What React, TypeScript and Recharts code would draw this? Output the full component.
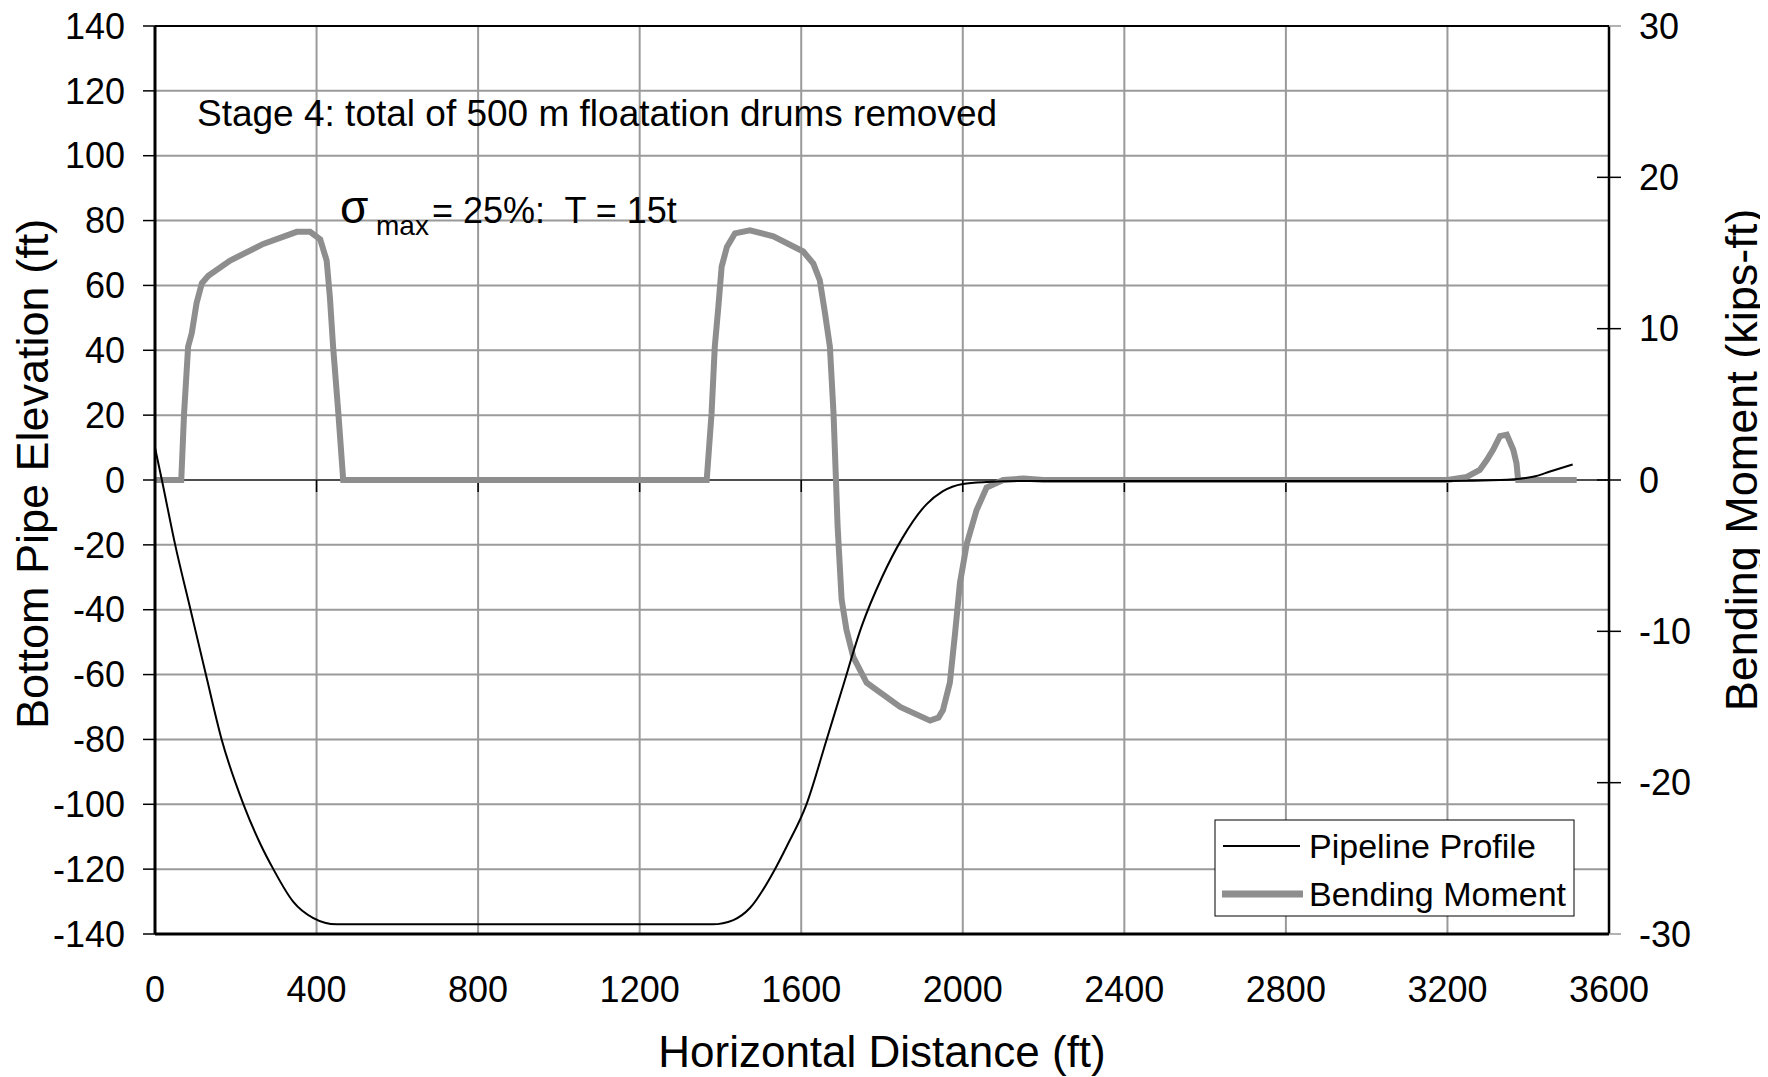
import { LineChart, Line, XAxis, YAxis, CartesianGrid, ReferenceLine } from "recharts";

const W = 1768;
const H = 1077;
const FONT = "'Liberation Sans', Arial, sans-serif";

const xTicks = [0, 400, 800, 1200, 1600, 2000, 2400, 2800, 3200, 3600];
const leftTicks = [-140, -120, -100, -80, -60, -40, -20, 0, 20, 40, 60, 80, 100, 120, 140];
const rightTicks = [-30, -20, -10, 0, 10, 20, 30];

// pipeline profile (ft, ft) - left axis
const profileX = [0, 17, 50, 88, 126, 165, 219, 260, 293, 342, 391, 450, 1380, 1432, 1473, 1535, 1564, 1613, 1663, 1700, 1750, 1800, 1850, 1910, 1950, 2000, 2060, 2150, 3200, 3330, 3412, 3454, 3510];
const profileY = [10, 0, -20, -40, -60, -80, -100, -112, -120, -130, -135, -137, -137, -135.7, -132, -120, -113, -100, -80, -65, -45, -30, -18, -7.5, -3.5, -1.2, -0.6, -0.3, -0.3, 0, 1, 2.6, 4.8];

// bending moment (ft, kips-ft) - right axis
const momentX = [0, 65, 72, 82, 91, 103, 116, 132, 186, 268, 351, 384, 409, 425, 433, 441, 454, 466, 1366, 1378, 1386, 1395, 1403, 1416, 1436, 1473, 1531, 1605, 1630, 1646, 1659, 1671, 1680, 1686, 1690, 1700, 1712, 1729, 1762, 1845, 1919, 1940, 1951, 1968, 1981, 1993, 2010, 2034, 2059, 2100, 2150, 2200, 3200, 3248, 3280, 3297, 3313, 3330, 3347, 3363, 3371, 3375, 3520];
const momentY = [0, 0, 4.4, 8.8, 9.7, 11.7, 13.0, 13.5, 14.5, 15.6, 16.4, 16.4, 15.9, 14.5, 12.1, 8.8, 4.4, 0, 0, 4.4, 8.8, 11.5, 14.1, 15.4, 16.3, 16.5, 16.1, 15.1, 14.3, 13.2, 11.0, 8.8, 4.4, 0, -3, -7.9, -9.9, -11.7, -13.4, -15.0, -15.9, -15.7, -15.2, -13.4, -10.1, -6.8, -4.2, -2.0, -0.5, 0, 0.1, 0, 0, 0.2, 0.66, 1.3, 2.0, 2.9, 3.0, 2.0, 1.1, 0, 0];

const profileData = profileX.map((x, i) => ({ x, y: profileY[i] }));
const momentData = momentX.map((x, i) => ({ x, y: momentY[i] }));

const RightTick = (props: any) => {
  const { x, y, payload } = props;
  const end = payload.value === 30 || payload.value === -30;
  return (
    <g>
      <line x1={end ? x : x - 12} x2={x + 12} y1={y} y2={y} stroke={end ? "#999" : "#000"} strokeWidth={1.5} />
      <text x={x + 30} y={y} dominantBaseline="central" fontSize={36} fill="#000" fontFamily={FONT}>
        {payload.value}
      </text>
    </g>
  );
};

export default function App() {
  // cancel the default 8px body margin so the chart sits at the page origin
  return (
    <div style={{ position: "relative", width: W, height: H, margin: "-8px 0 0 -8px", fontFamily: FONT }}>
      <LineChart width={W} height={H} margin={{ top: 26, right: 0, bottom: 0, left: 0 }}>
        <CartesianGrid stroke="#9a9a9a" strokeWidth={2} />
        <XAxis
          type="number"
          dataKey="x"
          domain={[0, 3600]}
          ticks={xTicks}
          interval={0}
          allowDataOverflow
          tickLine={false}
          tickSize={0}
          tickMargin={42}
          height={143}
          axisLine={{ stroke: "#000", strokeWidth: 3 }}
          tick={{ fill: "#000", fontSize: 36, fontFamily: FONT }}
        />
        <YAxis
          type="number"
          domain={[-140, 140]}
          ticks={leftTicks}
          interval={0}
          allowDataOverflow
          width={155}
          tickSize={12}
          tickMargin={18}
          tickLine={{ stroke: "#000", strokeWidth: 1.5 }}
          axisLine={{ stroke: "#000", strokeWidth: 3 }}
          tick={{ fill: "#000", fontSize: 36, fontFamily: FONT }}
        />
        <YAxis
          yAxisId="right"
          orientation="right"
          type="number"
          domain={[-30, 30]}
          ticks={rightTicks}
          interval={0}
          allowDataOverflow
          width={159}
          tickSize={0}
          tickMargin={0}
          tickLine={false}
          axisLine={{ stroke: "#000", strokeWidth: 2.5 }}
          tick={<RightTick />}
        />
        <ReferenceLine y={140} stroke="#000" strokeWidth={2} />
        <ReferenceLine y={0} stroke="#000" strokeWidth={1} />
        {xTicks.slice(1, -1).map((t) => (
          <ReferenceLine key={t} segment={[{ x: t, y: 0 }, { x: t, y: -3.7 }]} stroke="#000" strokeWidth={1.5} />
        ))}
        <Line
          data={momentData}
          dataKey="y"
          yAxisId="right"
          type="linear"
          stroke="#8e8e8e"
          strokeWidth={6}
          dot={false}
          isAnimationActive={false}
        />
        <Line
          data={profileData}
          dataKey="y"
          type="monotone"
          stroke="#000"
          strokeWidth={2}
          dot={false}
          isAnimationActive={false}
        />
      </LineChart>
      <svg
        width={W}
        height={H}
        style={{ position: "absolute", left: 0, top: 0, pointerEvents: "none", overflow: "visible" }}
        fontFamily={FONT}
      >
        <text x={197} y={126} fontSize={37} fill="#000">
          Stage 4: total of 500 m floatation drums removed
        </text>
        <text y={223} fill="#000" style={{ whiteSpace: "pre" }}>
          <tspan x={340} fontSize={46}>σ</tspan>
          <tspan x={376} y={235} fontSize={28}>max</tspan>
          <tspan x={432} y={223} fontSize={36}>= 25%:  T = 15t</tspan>
        </text>
        <text
          x={32}
          y={474}
          fontSize={45}
          fill="#000"
          textAnchor="middle"
          dominantBaseline="central"
          transform="rotate(-90 32 474)"
        >
          Bottom Pipe Elevation (ft)
        </text>
        <text
          x={1741}
          y={460}
          fontSize={45}
          fill="#000"
          textAnchor="middle"
          dominantBaseline="central"
          transform="rotate(-90 1741 460)"
        >
          Bending Moment (kips-ft)
        </text>
        <text x={882} y={1051} fontSize={44} fill="#000" textAnchor="middle" dominantBaseline="central">
          Horizontal Distance (ft)
        </text>
        <rect x={1215} y={820} width={359} height={96} fill="#fff" stroke="#000" strokeWidth={1} />
        <line x1={1223} x2={1300} y1={846} y2={846} stroke="#000" strokeWidth={2} />
        <text x={1309} y={846} fontSize={34} fill="#000" dominantBaseline="central">
          Pipeline Profile
        </text>
        <line x1={1222} x2={1303} y1={894} y2={894} stroke="#8e8e8e" strokeWidth={7} />
        <text x={1309} y={894} fontSize={34} fill="#000" dominantBaseline="central">
          Bending Moment
        </text>
      </svg>
    </div>
  );
}
